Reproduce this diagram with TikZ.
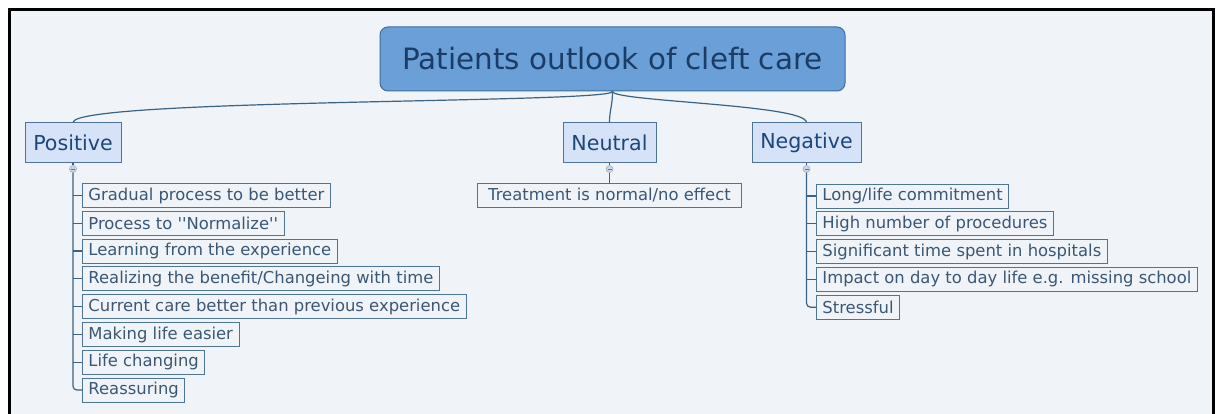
\documentclass[tikz,border=0pt]{standalone}
\usepackage{fontspec}
\setmainfont{DejaVu Sans}
\usetikzlibrary{calc}
\definecolor{bgc}{HTML}{F0F3F7}
\definecolor{rootfill}{HTML}{6A9FD8}
\definecolor{rootdraw}{HTML}{3F6E9F}
\definecolor{roottext}{HTML}{1B3C66}
\definecolor{catfill}{HTML}{D5E2F7}
\definecolor{catdraw}{HTML}{4D7399}
\definecolor{cattext}{HTML}{1D4779}
\definecolor{leafdraw}{HTML}{4E7596}
\definecolor{leaftext}{HTML}{3A5875}
\definecolor{linec}{HTML}{3C6283}
\definecolor{collfill}{HTML}{C9D7E8}
\definecolor{colldraw}{HTML}{8FA8C2}
\tikzset{
  rootbox/.style={draw=rootdraw, line width=1pt, fill=rootfill, rounded corners=8pt, text=roottext,
    minimum width=465pt, minimum height=64pt, inner sep=0pt, font=\fontsize{29.4}{34}\selectfont},
  catbox/.style={draw=catdraw, line width=1pt, fill=catfill, text=cattext, minimum height=40pt,
    inner sep=0pt, font=\fontsize{20.6}{24}\selectfont},
  leafbox/.style={draw=leafdraw, line width=0.9pt, fill=bgc, text=leaftext, minimum height=24pt,
    inner xsep=6pt, inner ysep=0pt, anchor=west, font=\fontsize{16.4}{19}\selectfont},
  collbox/.style={circle, draw=colldraw, line width=0.5pt, fill=collfill, minimum size=7pt, inner sep=0pt,
    path picture={\draw[colldraw!70!black, line width=0.5pt] ([xshift=-2pt]path picture bounding box.center) -- ([xshift=2pt]path picture bounding box.center);}},
  conn/.style={draw=linec, line width=1.2pt},
  trunk/.style={draw=linec, line width=1.2pt, rounded corners=4pt},
}
\begin{document}
\begin{tikzpicture}[x=1pt, y=1pt]
\useasboundingbox (0,0) rectangle (1222,414);
\fill[white] (0,0) rectangle (1222,414);
\fill[bgc] (9.5,0) rectangle (1213.5,404.5);
\draw[black, line width=3pt] (9.5,-2) -- (9.5,404.5) -- (1213.5,404.5) -- (1213.5,-2);

% root and categories
\node[rootbox] (root) at (612.5,355) {Patients outlook of cleft care};
\node[catbox, minimum width=96pt] (pos) at (73,271) {Positive};
\node[catbox, minimum width=93pt] (neu) at (609.5,271) {Neutral};
\node[catbox, minimum width=109pt] (neg) at (806.5,271) {Negative};

\draw[conn] (root.south) .. controls +(0,-12) and +(0,24) .. (pos.north);
\draw[conn] (root.south) .. controls +(0,-14) and +(0,12) .. (neu.north);
\draw[conn] (root.south) .. controls +(0,-10) and +(0,18) .. (neg.north);

% collapse markers
\node[collbox] (pc) at (73,245) {};
\node[collbox] (nc) at (609.5,245) {};
\node[collbox] (gc) at (806.5,245) {};
\draw[conn] (pos.south) -- (pc.north);
\draw[conn] (neu.south) -- (nc.north);
\draw[conn] (neg.south) -- (gc.north);

% positive leaves
\node[leafbox] (p1) at (82,218.5) {Gradual process to be better};
\node[leafbox] (p2) at (82,190.7) {Process to \textquotesingle\textquotesingle Normalize\textquotesingle\textquotesingle};
\node[leafbox] (p3) at (82,162.9) {Learning from the experience};
\node[leafbox] (p4) at (82,135.1) {Realizing the benefit/Changeing with time};
\node[leafbox] (p5) at (82,107.3) {Current care better than previous experience};
\node[leafbox] (p6) at (82,79.5) {Making life easier};
\node[leafbox] (p7) at (82,51.7) {Life changing};
\node[leafbox] (p8) at (82,23.9) {Reassuring};
\draw[trunk] (pc.south) |- (p8.west);
\foreach \n in {p1,p2,p3,p4,p5,p6,p7}{\draw[conn] (pc.south |- \n.west) -- (\n.west);}

% neutral leaf
\node[leafbox, minimum width=264pt] (u1) at (477,218.5) {Treatment is normal/no effect};
\draw[conn] (nc.south) -- (nc.south |- u1.north);

% negative leaves
\node[leafbox] (n1) at (816,218) {Long/life commitment};
\node[leafbox] (n2) at (816,190.2) {High number of procedures};
\node[leafbox] (n3) at (816,162.4) {Significant time spent in hospitals};
\node[leafbox] (n4) at (816,134.6) {Impact on day to day life e.g. missing school};
\node[leafbox] (n5) at (816,106.8) {Stressful};
\draw[trunk] (gc.south) |- (n5.west);
\foreach \n in {n1,n2,n3,n4}{\draw[conn] (gc.south |- \n.west) -- (\n.west);}
\end{tikzpicture}
\end{document}
